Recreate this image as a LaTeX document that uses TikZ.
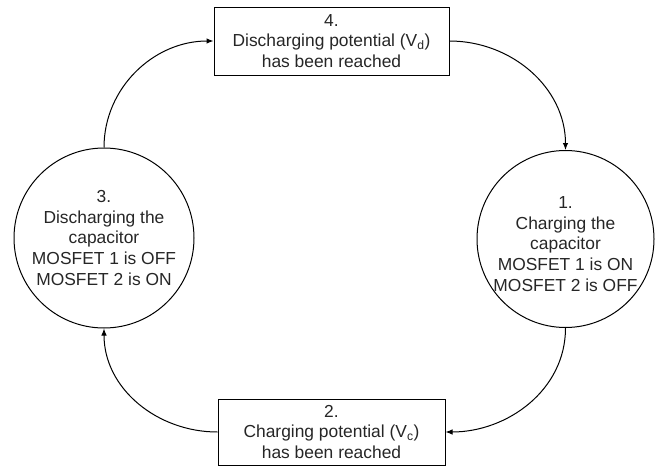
\documentclass[tikz,border=0pt]{standalone}
\usepackage{fontspec}
\setmainfont{Liberation Sans}
\usetikzlibrary{arrows.meta}
\begin{document}
\begin{tikzpicture}[x=1pt,y=-1pt,
  txt/.style={align=center,font=\fontsize{17.4}{20.8}\selectfont,inner sep=0pt,text=black!85},
  statebox/.style={txt,draw=black,line width=1pt,rectangle},
  statecirc/.style={txt,draw=black,line width=1pt,circle},
  conn/.style={line width=1pt,-{Latex[length=7pt,width=5.5pt]}}]
\useasboundingbox (0,0) rectangle (661,466);
\node[statebox,minimum width=235,minimum height=68] (s4) at (331.5,41) {4.\\Discharging potential (V\textsubscript{d})\\has been reached};
\node[statebox,minimum width=227,minimum height=66] (s2) at (331.5,432) {2.\\Charging potential (V\textsubscript{c})\\has been reached};
\node[statecirc,minimum size=180] (s3) at (104,238) {3.\\Discharging the\\capacitor\\MOSFET 1 is OFF\\MOSFET 2 is ON};
\node[statecirc,minimum size=177] (s1) at (565.5,239) {};
\node[txt] (s1t) at (565.5,244) {1.\\Charging the\\capacitor\\MOSFET 1 is ON\\MOSFET 2 is OFF};
\draw[conn] (s3.north) to[out=90,in=180] (s4.west);
\draw[conn] (s4.east) to[out=0,in=90] (s1.north);
\draw[conn] (s1.south) to[out=-90,in=0] (s2.east);
\draw[conn] (s2.west) to[out=180,in=-90] (s3.south);
\end{tikzpicture}
\end{document}
